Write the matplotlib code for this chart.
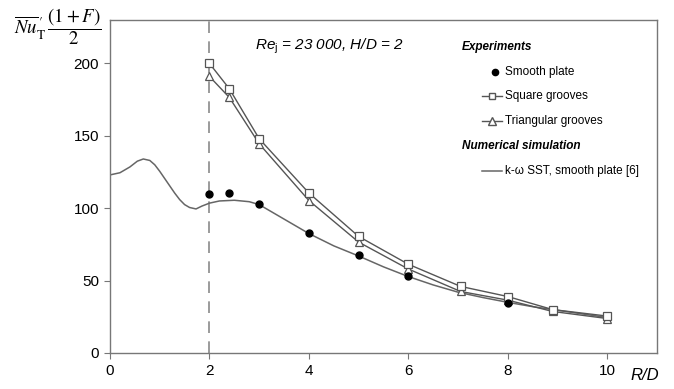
import matplotlib
matplotlib.use("Agg")
import matplotlib.pyplot as plt

plt.rcParams['font.family'] = ['Liberation Sans', 'DejaVu Sans']
plt.rcParams['mathtext.fontset'] = 'custom'
plt.rcParams['mathtext.rm'] = 'Liberation Sans'
plt.rcParams['mathtext.it'] = 'Liberation Sans:italic'

# Data
smooth_x = [2, 2.4, 3, 4, 5, 6, 8]
smooth_y = [110, 110.5, 103, 83, 68, 53, 34.5]

square_x = [2, 2.4, 3, 4, 5, 6, 7.05, 8, 8.9, 10]
square_y = [200, 182.5, 148, 110.5, 80.5, 61.3, 46, 39, 30, 25.5]

tri_x = [2, 2.4, 3, 4, 5, 6, 7.05, 8, 8.9, 10]
tri_y = [191, 176.5, 144.5, 105.3, 76.6, 58, 42.5, 36.5, 28.7, 23.8]

sim_x = [0, 0.2, 0.4, 0.55, 0.67, 0.8, 0.9, 1.0, 1.1, 1.2, 1.3, 1.4, 1.5, 1.6,
         1.73, 1.85, 2.0, 2.2, 2.5, 2.8, 3.0, 3.5, 4.0, 4.5, 5.0, 5.5, 6.0,
         6.5, 7.0, 7.5, 8.0, 8.5, 9.0, 9.5, 10.0]
sim_y = [123, 124.5, 128.5, 132.5, 134, 133, 130, 125.5, 120.5, 115.5, 110.5,
         106, 102.5, 100.5, 99.5, 101.5, 103.5, 105, 105.5, 104.5, 102.5, 92.5,
         82.5, 74, 67, 59.5, 52.8, 47, 42, 38.3, 35, 32, 29.5, 27, 24.5]

xticks = [0, 2, 4, 6, 8, 10]
yticks = [0, 50, 100, 150, 200]

fig = plt.figure(figsize=(6.74, 3.89), dpi=100)
ax = fig.add_axes([110/674, 1-353/389, 547/674, 333/389])
ax.set_xlim(0, 11)
ax.set_ylim(0, 230)

gray = '#777777'
ax.axvline(2, color='#8a8a8a', lw=1.2, ls=(0, (7, 5)), zorder=1)
ax.plot(sim_x, sim_y, color='#666666', lw=1.1, zorder=2)
ax.plot(square_x, square_y, color='#555555', lw=1.0, marker='s', ms=5.5,
        mfc='white', mec='#555555', mew=0.9, zorder=4)
ax.plot(tri_x, tri_y, color='#555555', lw=1.0, marker='^', ms=6,
        mfc='white', mec='#555555', mew=0.9, zorder=3)
ax.plot(smooth_x, smooth_y, ls='none', marker='o', ms=5, color='black', zorder=5)

ax.set_xticks(xticks)
ax.set_yticks(yticks)
ax.tick_params(direction='out', length=4, color=gray, labelsize=11, pad=4)
for s in ax.spines.values():
    s.set_color(gray)
    s.set_linewidth(1.0)

# axis labels
fig.text(14/674, 1-27/389,
         r"$\overline{Nu}^{\,\prime}_{\mathrm{T}}\,\dfrac{(1+F)}{2}$",
         math_fontfamily='stix', fontsize=13.5, va='center', ha='left')
ax.text(0.978, -0.045, 'R/D', transform=ax.transAxes, style='italic',
        fontsize=12, ha='center', va='top')

ax.text(0.265, 0.92, r"$\mathit{Re}_{\mathrm{j}}$ = 23 000, H/D = 2",
        transform=ax.transAxes, style='italic', fontsize=11, ha='left', va='center')

# legend drawn manually
lx0, lx1, tx = 0.68, 0.717, 0.723
fs = 8.5
ax.text(0.643, 0.919, 'Experiments', transform=ax.transAxes, fontsize=fs,
        weight='bold', style='italic', va='center')
ax.plot([0.704], [0.845], transform=ax.transAxes, marker='o', ms=4.5,
        color='black', ls='none')
ax.text(tx, 0.845, 'Smooth plate', transform=ax.transAxes, fontsize=fs, va='center')
ax.plot([lx0, lx1], [0.772, 0.772], transform=ax.transAxes, color='#555555', lw=1.0)
ax.plot([(lx0+lx1)/2], [0.772], transform=ax.transAxes, marker='s', ms=5,
        mfc='white', mec='#555555', ls='none')
ax.text(tx, 0.772, 'Square grooves', transform=ax.transAxes, fontsize=fs, va='center')
ax.plot([lx0, lx1], [0.698, 0.698], transform=ax.transAxes, color='#555555', lw=1.0)
ax.plot([(lx0+lx1)/2], [0.698], transform=ax.transAxes, marker='^', ms=5.5,
        mfc='white', mec='#555555', ls='none')
ax.text(tx, 0.698, 'Triangular grooves', transform=ax.transAxes, fontsize=fs, va='center')
ax.text(0.643, 0.622, 'Numerical simulation', transform=ax.transAxes, fontsize=fs,
        weight='bold', style='italic', va='center')
ax.plot([lx0, lx1], [0.547, 0.547], transform=ax.transAxes, color='#666666', lw=1.1)
ax.text(tx, 0.547, 'k-ω SST, smooth plate [6]', transform=ax.transAxes,
        fontsize=fs, va='center')

fig.savefig('out.png', dpi=100)
